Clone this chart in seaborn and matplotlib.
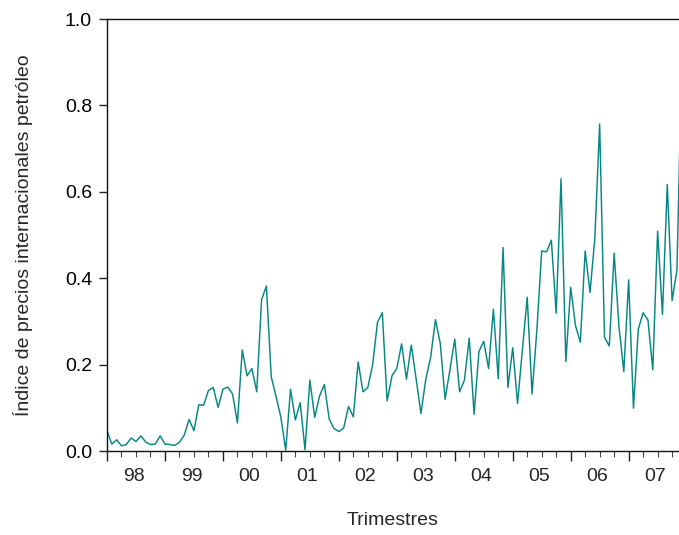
import numpy as np
import pandas as pd
import matplotlib
matplotlib.use("Agg")
import matplotlib.pyplot as plt
import seaborn as sns

# ---- data (monthly index, Jan 1998 .. Dec 2007) ----
year_labels = ['98', '99', '00', '01', '02', '03', '04', '05', '06', '07']
v1998 = [0.047, 0.016, 0.026, 0.012, 0.015, 0.030, 0.022, 0.035, 0.021, 0.015, 0.016, 0.035]
v1999 = [0.016, 0.015, 0.013, 0.020, 0.037, 0.073, 0.047, 0.107, 0.106, 0.140, 0.147, 0.101]
v2000 = [0.143, 0.148, 0.132, 0.065, 0.234, 0.174, 0.191, 0.137, 0.350, 0.382, 0.172, 0.126]
v2001 = [0.078, 0.002, 0.143, 0.072, 0.112, 0.003, 0.164, 0.078, 0.127, 0.154, 0.074, 0.052]
v2002 = [0.045, 0.053, 0.103, 0.079, 0.206, 0.137, 0.147, 0.200, 0.298, 0.320, 0.116, 0.174]
v2003 = [0.191, 0.248, 0.166, 0.245, 0.167, 0.087, 0.166, 0.216, 0.304, 0.249, 0.120, 0.188]
v2004 = [0.259, 0.137, 0.164, 0.261, 0.085, 0.230, 0.254, 0.191, 0.328, 0.167, 0.471, 0.147]
v2005 = [0.239, 0.110, 0.234, 0.356, 0.132, 0.280, 0.463, 0.461, 0.488, 0.319, 0.630, 0.207]
v2006 = [0.379, 0.290, 0.252, 0.463, 0.367, 0.492, 0.757, 0.263, 0.243, 0.458, 0.288, 0.184]
v2007 = [0.396, 0.099, 0.282, 0.320, 0.303, 0.188, 0.509, 0.316, 0.617, 0.348, 0.419, 0.900]

values = v1998 + v1999 + v2000 + v2001 + v2002 + v2003 + v2004 + v2005 + v2006 + v2007
df = pd.DataFrame({"mes": np.arange(len(values)), "indice": values})

sns.set_style("ticks")
plt.rcParams['font.family'] = ['Liberation Sans', 'DejaVu Sans']

fig = plt.figure(figsize=(6.79, 5.35), dpi=100)
ax = fig.add_axes([107 / 679, 84 / 535, 572 / 679, 432 / 535])

sns.lineplot(data=df, x="mes", y="indice", ax=ax, color="#058783", linewidth=1.05)

ax.set_xlim(0, 572 / 4.83)
ax.set_ylim(0, 1.0)

for s in ['left', 'bottom', 'top']:
    ax.spines[s].set_linewidth(1.0)
    ax.spines[s].set_color('#111111')
ax.spines['right'].set_visible(False)

# y axis
ax.set_yticks([0.0, 0.2, 0.4, 0.6, 0.8, 1.0])
ax.set_yticklabels(['0.0', '0.2', '0.4', '0.6', '0.8', '1.0'])
ax.tick_params(axis='y', direction='out', length=5.8, width=1.0, pad=5,
               labelsize=14, colors='#222222', labelcolor='black')

# x axis: year boundaries (major) and quarters (minor), no labels
n_years = len(year_labels)
ax.set_xticks(np.arange(0, 12 * n_years, 12))
ax.set_xticklabels([])
ax.set_xticks(np.arange(0, 12 * n_years, 3), minor=True)
ax.tick_params(axis='x', which='major', direction='out', length=7.5, width=1.0, colors='#222222')
ax.tick_params(axis='x', which='minor', direction='out', length=4, width=0.8, colors='#444444')

# year labels centred in each year
sec = ax.secondary_xaxis('bottom')
sec.set_xticks(np.arange(n_years) * 12 + 5.5)
sec.set_xticklabels(year_labels)
sec.tick_params(length=0, pad=12, labelsize=14)
sec.spines['bottom'].set_visible(False)

ax.set_xlabel('')
sec.set_xlabel('Trimestres', fontsize=14, labelpad=20)
ax.set_ylabel('Índice de precios internacionales petróleo', fontsize=14, labelpad=23)

fig.savefig("out.png", dpi=100)
